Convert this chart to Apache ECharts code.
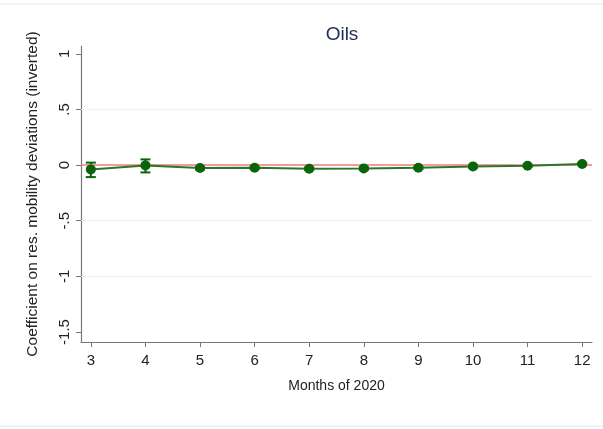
<!DOCTYPE html>
<html>
<head>
<meta charset="utf-8">
<script src="https://cdn.jsdelivr.net/npm/echarts@6/dist/echarts.min.js"></script>
<style>
  html, body { margin: 0; padding: 0; background: #fff; }
  #chart { width: 603px; height: 429px; }
</style>
</head>
<body>
<div id="chart"></div>
<script>
// Monthly coefficients with 95% confidence bounds
const months = [3, 4, 5, 6, 7, 8, 9, 10, 11, 12];
const coef  = [-0.039, -0.003, -0.027, -0.024, -0.033, -0.030, -0.024, -0.012, -0.006, 0.009];
const upper = [0.022, 0.051, -0.013, -0.012, -0.021, -0.018, -0.012, 0.000, 0.004, 0.018];
const lower = [-0.108, -0.066, -0.041, -0.036, -0.045, -0.042, -0.036, -0.024, -0.016, 0.000];

const yTicks = [1, 0.5, 0, -0.5, -1, -1.5];
const yGrid = [0.5, -0.5, -1];
const xTicks = months;

const fmtY = v => {
  let s = String(Math.round(v * 10) / 10);
  return s.replace(/^(-?)0\./, '$1.');
};

const chart = echarts.init(document.getElementById('chart'), null, { renderer: 'canvas' });

const pointData = months.map((m, i) => [m, coef[i]]);
const barData = months.map((m, i) => [m, lower[i], upper[i]]);

chart.setOption({
  animation: false,
  backgroundColor: '#ffffff',
  title: {
    text: 'Oils',
    left: 337, top: 20, textAlign: 'center',
    textStyle: { fontFamily: 'Liberation Sans', fontSize: 19, fontWeight: 'normal', color: '#1e2b52' }
  },
  grid: { left: 81, right: 11, top: 46, bottom: 87 },
  xAxis: {
    type: 'value', min: 2.82, max: 12.18,
    name: 'Months of 2020', nameLocation: 'middle', nameGap: 37,
    nameTextStyle: { fontFamily: 'Liberation Sans', fontSize: 14, color: '#222' },
    axisLine: { show: true, onZero: false, lineStyle: { color: '#777', width: 1.2 } },
    axisTick: { show: true, length: 5, customValues: xTicks, lineStyle: { color: '#777' } },
    axisLabel: { customValues: xTicks, fontFamily: 'Liberation Sans', fontSize: 15, color: '#222', margin: 11 },
    splitLine: { show: false }
  },
  yAxis: {
    type: 'value', min: -1.59, max: 1.07,
    name: 'Coefficient on res. mobility deviations (inverted)',
    nameLocation: 'middle', nameGap: 40,
    nameTextStyle: { fontFamily: 'Liberation Sans', fontSize: 15.5, color: '#222' },
    axisLine: { show: true, onZero: false, lineStyle: { color: '#777', width: 1.2 } },
    axisTick: { show: true, length: 5, customValues: yTicks, lineStyle: { color: '#777' } },
    axisLabel: {
      customValues: yTicks, rotate: 90, formatter: fmtY,
      fontFamily: 'Liberation Sans', fontSize: 15, color: '#222', margin: 9
    },
    splitLine: { show: false }
  },
  graphic: [
    { type: 'line', shape: { x1: 0, y1: 4, x2: 603, y2: 4 }, style: { stroke: '#e3e9ee', lineWidth: 1 }, silent: true },
    { type: 'line', shape: { x1: 0, y1: 426, x2: 603, y2: 426 }, style: { stroke: '#e3e9ee', lineWidth: 1 }, silent: true }
  ],
  series: [
    {
      type: 'line',
      data: [],
      silent: true,
      markLine: {
        symbol: 'none', silent: true, label: { show: false },
        lineStyle: { color: '#eef2f5', width: 1, type: 'solid' },
        data: yGrid.map(v => ({ yAxis: v }))
      }
    },
    {
      type: 'line',
      data: [],
      silent: true,
      z: 3,
      markLine: {
        symbol: 'none', silent: true, label: { show: false },
        lineStyle: { color: '#f07a7a', width: 1.5, type: 'solid' },
        data: [{ yAxis: 0 }]
      }
    },
    {
      type: 'custom',
      z: 4,
      data: barData,
      renderItem: (params, api) => {
        const x = api.value(0);
        const lo = api.coord([x, api.value(1)]);
        const hi = api.coord([x, api.value(2)]);
        const w = 5;
        const st = { stroke: '#0a640a', lineWidth: 2 };
        return {
          type: 'group',
          children: [
            { type: 'line', shape: { x1: lo[0], y1: lo[1], x2: hi[0], y2: hi[1] }, style: st },
            { type: 'line', shape: { x1: lo[0] - w, y1: lo[1], x2: lo[0] + w, y2: lo[1] }, style: st },
            { type: 'line', shape: { x1: hi[0] - w, y1: hi[1], x2: hi[0] + w, y2: hi[1] }, style: st }
          ]
        };
      }
    },
    {
      type: 'line',
      z: 5,
      data: pointData,
      symbol: 'circle', symbolSize: 10,
      itemStyle: { color: '#0a640a' },
      lineStyle: { color: '#2a762a', width: 2 }
    }
  ]
});
</script>
</body>
</html>
